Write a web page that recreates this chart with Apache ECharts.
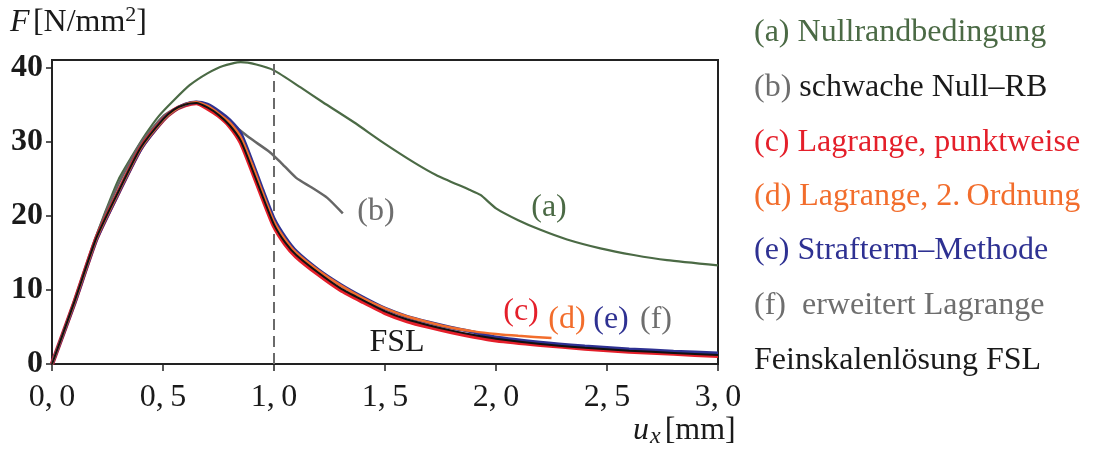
<!DOCTYPE html>
<html><head><meta charset="utf-8">
<script src="https://cdn.jsdelivr.net/npm/echarts@6/dist/echarts.min.js"></script>
<style>html,body{margin:0;padding:0;background:#fff}#c{width:1096px;height:452px}</style>
</head><body><div id="c"></div>
<script>
// ---- data ----
const xTicks = [0, 0.5, 1.0, 1.5, 2.0, 2.5, 3.0];
const yTicks = [0, 10, 20, 30, 40];

const uA = [0,0.06,0.12,0.18,0.24,0.3,0.36,0.42,0.48,0.55,0.62,0.7,0.77,0.85,0.92,1.0,1.12,1.22,1.36,1.49,1.63,1.73,1.88,1.93,2.0,2.1,2.2,2.32,2.47,2.62,2.77,3.0];
const fA = [0,5.1,10.2,15.6,20.5,24.9,28.0,30.9,33.4,35.6,37.6,39.2,40.2,40.7,40.4,39.6,37.3,35.3,32.6,29.9,27.2,25.5,23.5,22.8,21.0,19.4,18.1,16.8,15.6,14.7,14.0,13.3];

const uB = [0,0.1,0.2,0.3,0.4,0.5,0.56,0.635,0.71,0.8,0.89,0.98,1.03,1.1,1.17,1.24,1.31];
const fB = [0,8.5,17.3,24.3,29.8,33.4,34.5,35.2,34.5,32.6,30.5,28.6,27.2,25.1,23.8,22.4,20.3];

const uFSL = [0,0.1,0.2,0.3,0.4,0.5,0.55,0.6,0.65,0.7,0.75,0.8,0.85,0.9,0.95,1.0,1.05,1.1,1.2,1.3,1.4,1.5,1.6,1.7,1.8,1.9,2.0,2.2,2.4,2.6,2.8,3.0];
const fFSL = [0,8.3,17.0,23.3,29.2,33.0,34.3,35.0,35.2,34.6,33.6,32.2,30.1,26.4,22.5,18.8,16.4,14.7,12.3,10.2,8.6,7.1,6.0,5.2,4.5,3.9,3.4,2.7,2.2,1.8,1.5,1.2];
const fC   = [0,8.2,16.9,23.2,29.1,32.9,34.2,34.9,35.2,34.5,33.5,32.1,29.9,26.2,22.3,18.6,16.2,14.5,12.1,10.0,8.4,6.9,5.8,5.0,4.3,3.7,3.2,2.6,2.1,1.7,1.4,1.1];
const fE   = [0,8.1,16.8,23.1,29.0,32.9,34.2,35.0,35.3,35.0,34.1,32.9,31.1,27.4,23.4,19.6,17.1,15.2,12.7,10.7,9.0,7.5,6.4,5.6,4.9,4.3,3.6,2.9,2.4,2.0,1.7,1.45];
const uD = [0,0.1,0.2,0.3,0.4,0.5,0.55,0.6,0.65,0.7,0.75,0.8,0.85,0.9,0.95,1.0,1.05,1.1,1.2,1.3,1.4,1.5,1.6,1.7,1.8,1.9,2.0,2.1,2.25];
const fD = [0,8.2,16.9,23.2,29.1,32.9,34.2,35.0,35.3,34.8,33.8,32.6,30.6,27.0,23.0,19.2,16.8,15.0,12.6,10.6,8.9,7.5,6.4,5.6,4.9,4.4,4.05,3.8,3.5];

const dashX = 1.0;

const legendRows = [
  {tag:'(a)', text:' Nullrandbedingung', tagColor:'#4b6a45', color:'#4b6a45'},
  {tag:'(b)', text:' schwache Null–RB', tagColor:'#6e6e6e', color:'#1a1a1a'},
  {tag:'(c)', text:' Lagrange, punktweise', tagColor:'#e41f2a', color:'#e41f2a'},
  {tag:'(d)', text:' Lagrange, 2.\u2009Ordnung', tagColor:'#f26d2c', color:'#f26d2c'},
  {tag:'(e)', text:' Strafterm–Methode', tagColor:'#2e3192', color:'#2e3192'},
  {tag:'(f)', text:'\u2002erweitert Lagrange', tagColor:'#6e6e6e', color:'#6e6e6e'},
  {tag:'', text:'Feinskalenlösung FSL', tagColor:'#1a1a1a', color:'#1a1a1a'}
];

// ---- chart ----
const FONT = "'Liberation Serif','DejaVu Serif',serif";
const FS = 32;
const pairs = (u, f) => u.map((x, i) => [x, f[i]]);
const chart = echarts.init(document.getElementById('c'), null, {renderer:'canvas'});

function line(name, data, color, width, z) {
  return {name, type:'line', data, showSymbol:false, smooth:0.2, z,
    lineStyle:{color, width}, itemStyle:{color}, silent:true, animation:false};
}

const rowY = [33, 88, 143, 197, 251, 306, 361];
const graphics = legendRows.map((r, i) => ({
  type:'text', x:754, y:rowY[i], silent:true,
  style:{
    text:(r.tag ? '{t|' + r.tag + '}' : '') + '{s|' + r.text + '}',
    verticalAlign:'middle',
    rich:{
      t:{fill:r.tagColor, fontSize:FS, fontFamily:FONT},
      s:{fill:r.color, fontSize:FS, fontFamily:FONT}
    }
  }
}));

const inl = [
  ['(a)', 549, 208, '#4b6a45'], ['(b)', 376, 212, '#6e6e6e'],
  ['(c)', 521, 312, '#e41f2a'], ['(d)', 567, 320, '#f26d2c'],
  ['(e)', 611, 320, '#2e3192'], ['(f)', 656, 320, '#6e6e6e'],
  ['FSL', 397, 343, '#1a1a1a']
];
inl.forEach(([t, x, y, c]) => graphics.push({
  type:'text', x, y, silent:true,
  style:{text:t, fill:c, fontSize:FS, fontFamily:FONT, align:'center', verticalAlign:'middle'}
}));

// axis titles
graphics.push({type:'text', left:10, top:4, silent:true, style:{
  text:'{i|F} {n|[N/mm}{s|2}{n|]}',
  rich:{
    i:{fontSize:FS, fontStyle:'italic', fontFamily:FONT, fill:'#1a1a1a'},
    n:{fontSize:FS, fontFamily:FONT, fill:'#1a1a1a'},
    s:{fontSize:22, fontFamily:FONT, fill:'#1a1a1a', verticalAlign:'top', padding:[0,0,16,0]}
  }}});
graphics.push({type:'text', left:633, top:415, silent:true, style:{
  text:'{i|u}{x|x}{n|[mm]}',
  rich:{
    i:{fontSize:FS, fontStyle:'italic', fontFamily:FONT, fill:'#1a1a1a'},
    x:{fontSize:24, fontStyle:'italic', fontFamily:FONT, fill:'#1a1a1a', padding:[12,4,0,1]},
    n:{fontSize:FS, fontFamily:FONT, fill:'#1a1a1a'}
  }}});

chart.setOption({
  animation:false,
  backgroundColor:'#fff',
  grid:{left:52, right:378, top:60, bottom:88, show:true, borderColor:'#222', borderWidth:2, backgroundColor:'transparent'},
  xAxis:{type:'value', min:0, max:3, interval:0.5,
    axisLine:{lineStyle:{color:'#222', width:2}},
    axisTick:{length:7, lineStyle:{color:'#222', width:1.5}, customValues:xTicks},
    splitLine:{show:false},
    axisLabel:{customValues:xTicks, margin:18, fontSize:FS, fontFamily:FONT, color:'#1a1a1a',
      formatter:v => v.toFixed(1).replace('.', ',\u2009')}
  },
  yAxis:{type:'value', min:0, max:41, interval:10,
    axisLine:{lineStyle:{color:'#222', width:2}},
    axisTick:{length:6, lineStyle:{color:'#222', width:1.5}, customValues:yTicks},
    splitLine:{show:false},
    axisLabel:{customValues:yTicks, margin:9, fontSize:FS, fontWeight:'bold', fontFamily:FONT, color:'#1a1a1a'}
  },
  series:[
    Object.assign(line('dash', [], '#777', 2, 1), {
      markLine:{silent:true, symbol:['none','none'], label:{show:false},
        lineStyle:{color:'#6a6a6a', width:2, type:[11,6]}, data:[{xAxis:dashX}], animation:false}
    }),
    line('(a) Nullrandbedingung', pairs(uA, fA), '#4b6a45', 2.2, 3),
    line('(b) schwache Null–RB', pairs(uB, fB), '#666666', 2.5, 4),
    line('(c) Lagrange, punktweise', pairs(uFSL, fC), '#e41f2a', 4.5, 5),
    line('(e) Strafterm–Methode', pairs(uFSL, fE), '#2e3192', 3.5, 6),
    line('(d) Lagrange, 2. Ordnung', pairs(uD, fD), '#f26d2c', 2.5, 7),
    line('Feinskalenlösung FSL', pairs(uFSL, fFSL), '#111111', 2, 8)
  ],
  graphic:graphics
});
</script></body></html>
